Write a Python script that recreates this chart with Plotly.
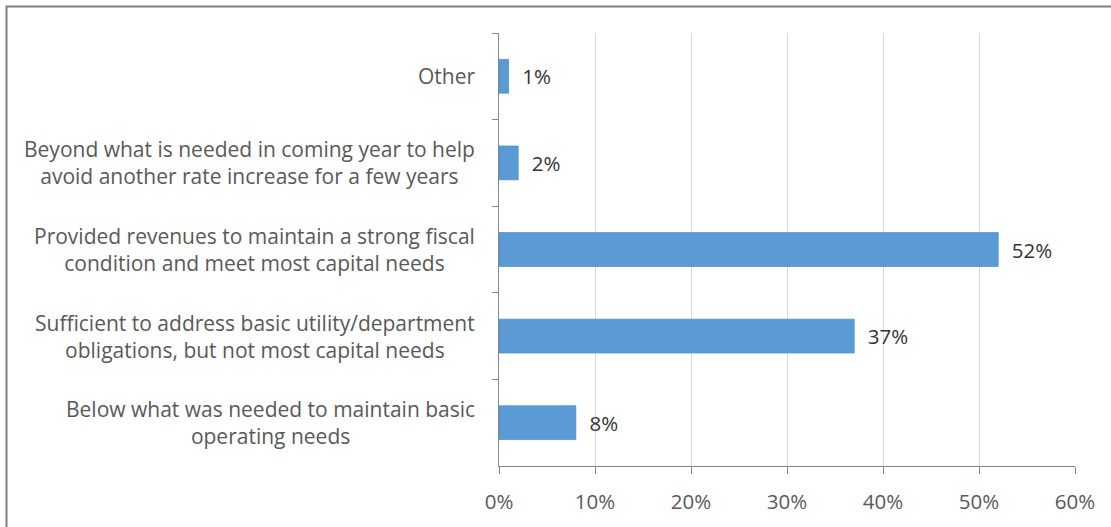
import plotly.graph_objects as go

# Survey responses: how the most recent rate increase was characterised
categories = [
    "Other",
    "Beyond what is needed in coming year to help<br>avoid another rate increase for a few years",
    "Provided revenues to maintain a strong fiscal<br>condition and meet most capital needs",
    "Sufficient to address basic utility/department<br>obligations, but not most capital needs",
    "Below what was needed to maintain basic<br>operating needs",
]
shares = [1, 2, 52, 37, 8]  # percent of respondents
x_ticks = [0, 10, 20, 30, 40, 50, 60]
x_tick_labels = ["0%", "10%", "20%", "30%", "40%", "50%", "60%"]

W, H = 1111, 527
L, R, T, B = 499, 36, 33, 59
pw, ph = W - L - R, H - T - B

FONT = "Open Sans"
BAR = "#5B9BD5"
GRAY_TXT = "#595959"

fig = go.Figure(
    go.Bar(
        x=shares,
        y=categories,
        orientation="h",
        marker=dict(color=BAR, line=dict(color="#4F8FCB", width=0.8)),
        width=0.39,
        text=[f"\u00a0\u00a0{v}%" for v in shares],
        textposition="outside",
        textfont=dict(family=FONT, size=20.5, color="#333333"),
        cliponaxis=False,
        hoverinfo="skip",
    )
)

# Category labels, centred line by line and right-aligned to the axis
for c in categories:
    fig.add_annotation(
        x=0, xref="paper", xanchor="right", xshift=-22,
        y=c, yref="y", yanchor="middle",
        text=c, align="center", showarrow=False,
        font=dict(family=FONT, size=21, color=GRAY_TXT),
    )

# Outer frame (left and top edges visible)
def px_x(p):
    return (p - L) / pw

def px_y(p):
    return (H - B - p) / ph

fig.add_shape(
    type="rect", xref="paper", yref="paper",
    x0=px_x(6.5), x1=px_x(W + 20), y0=px_y(H + 20), y1=px_y(6.5),
    line=dict(color="#808080", width=2), fillcolor="rgba(0,0,0,0)", layer="above",
)

fig.update_layout(
    width=W, height=H,
    margin=dict(l=L, r=R, t=T, b=B, pad=0),
    paper_bgcolor="white", plot_bgcolor="white",
    showlegend=False,
    xaxis=dict(
        range=[0, 60], tickvals=x_ticks, ticktext=x_tick_labels,
        showgrid=True, gridcolor="#D9D9D9", gridwidth=1,
        showline=True, linecolor="#868686", linewidth=1,
        ticks="outside", ticklen=7, tickcolor="#868686",
        tickfont=dict(family=FONT, size=20.5, color=GRAY_TXT),
        ticklabelstandoff=10,
        zeroline=False, fixedrange=True,
    ),
    yaxis=dict(
        autorange="reversed", tickson="boundaries",
        showticklabels=False, showgrid=False,
        showline=True, linecolor="#868686", linewidth=1,
        ticks="outside", ticklen=6, tickcolor="#868686",
        fixedrange=True,
    ),
)

fig.write_html("out.html")
